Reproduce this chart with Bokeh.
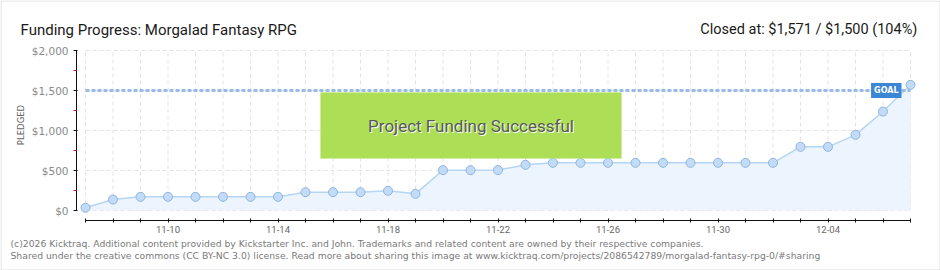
from bokeh.plotting import figure
from bokeh.models import (FixedTicker, NumeralTickFormatter, Label, BoxAnnotation, Range1d)
from bokeh.embed import file_html
from bokeh.resources import INLINE
import math

# ---------------- data ----------------
days = ["11-07", "11-08", "11-09", "11-10", "11-11", "11-12", "11-13", "11-14",
        "11-15", "11-16", "11-17", "11-18", "11-19", "11-20", "11-21", "11-22",
        "11-23", "11-24", "11-25", "11-26", "11-27", "11-28", "11-29", "11-30",
        "12-01", "12-02", "12-03", "12-04", "12-05", "12-06", "12-07"]
pledged = [34, 137, 171, 171, 171, 171, 171, 171, 229, 229, 229, 246, 208, 504, 504,
           505, 571, 596, 596, 596, 596, 596, 596, 596, 596, 596, 796, 796, 946, 1237, 1571]
labeled_days = ["11-10", "11-14", "11-18", "11-22", "11-26", "11-30", "12-04"]
y_ticks = [0, 500, 1000, 1500, 2000]
y_minor = [250, 750, 1250, 1750]
goal = 1500
closed_at = 1571
title_text = "Funding Progress: Morgalad Fantasy RPG"
footer1 = ("(c)2026 Kicktraq. Additional content provided by Kickstarter Inc. and John. "
           "Trademarks and related content are owned by their respective companies.")
footer2 = ("Shared under the creative commons (CC BY-NC 3.0) license. Read more about sharing "
           "this image at www.kicktraq.com/projects/2086542789/morgalad-fantasy-rpg-0/#sharing")

# ---------------- layout ----------------
W, H = 940, 270
X0PX, XNPX = 85, 910      # pixel of first / last day
Y0PX, YTPX = 210, 50      # pixel of $0 / top tick
YAXPX, XAXPX = 76, 220    # pixel position of y axis line / x axis line
n = len(days)
idx = list(range(n))
px_day = (XNPX - X0PX) / (n - 1)
px_usd = (Y0PX - YTPX) / y_ticks[-1]

def dx(px):   # canvas px -> data x
    return (px - X0PX) / px_day

def dy(py):   # canvas px -> data y
    return (Y0PX - py) / px_usd

p = figure(width=W, height=H, output_backend="svg", toolbar_location=None, title=None,
           x_range=Range1d(dx(0), dx(W)), y_range=Range1d(dy(H), dy(0)),
           min_border=0, min_border_left=0, min_border_right=0,
           min_border_top=0, min_border_bottom=0)
p.outline_line_color = None
p.background_fill_color = "white"
p.border_fill_color = "white"
p.xgrid.visible = False
p.ygrid.visible = False

# grid lines (dashed)
p.segment(x0=idx, y0=[y_ticks[0]] * n, x1=idx, y1=[y_ticks[-1]] * n,
          line_color="#e3e3e3", line_width=1, line_dash="4 3")
p.segment(x0=[0] * len(y_ticks), y0=y_ticks, x1=[n - 1] * len(y_ticks), y1=y_ticks,
          line_color="#e3e3e3", line_width=1, line_dash="4 3")

# area + line
p.varea(x=idx, y1=[0] * n, y2=pledged, fill_color="#ecf4fd")
p.line(idx, pledged, line_color="#b6d5f4", line_width=1.5)

# goal line
p.segment(x0=[0], y0=[goal], x1=[n - 1], y1=[goal],
          line_color="#99bce6", line_width=3, line_dash="4 2")

# points
p.scatter(idx, pledged, size=9, fill_color="#c2dcf8", line_color="#8fb4de", line_width=1)

# axes (drawn inside the full-canvas frame at fixed locations)
ya = p.yaxis[0]
ya.fixed_location = dx(YAXPX)
ya.ticker = FixedTicker(ticks=y_ticks, minor_ticks=y_minor)
ya.formatter = NumeralTickFormatter(format="$0,0")
ya.bounds = (y_ticks[0], y_ticks[-1])
ya.axis_line_color = "#111111"
ya.major_tick_line_color = "#111111"
ya.major_tick_in = 1
ya.major_tick_out = 3
ya.minor_tick_line_color = "#e01010"
ya.minor_tick_in = 0
ya.minor_tick_out = 3
ya.major_label_text_color = "#8a8a8a"
ya.major_label_text_font = "DejaVu Sans"
ya.major_label_text_font_size = "10.5px"
ya.major_label_standoff = 5

xa = p.xaxis[0]
xa.fixed_location = dy(XAXPX)
xa.ticker = FixedTicker(ticks=idx, minor_ticks=[])
xa.major_label_overrides = {i: (d if d in labeled_days else "") for i, d in zip(idx, days)}
xa.bounds = (0, n - 1)
xa.axis_line_color = "#111111"
xa.major_tick_line_color = "#111111"
xa.major_tick_in = 2
xa.major_tick_out = 2
xa.minor_tick_line_color = None
xa.major_label_text_color = "#666666"
xa.major_label_text_font = "Roboto"
xa.major_label_text_font_size = "9.5px"
xa.major_label_standoff = 3

# success banner
p.add_layout(BoxAnnotation(left=dx(320), right=dx(621), bottom=dy(158), top=dy(92),
                           fill_color="#acde56", fill_alpha=1.0,
                           line_color="#c9ea8e", line_width=1, level="overlay"))
p.add_layout(Label(x=dx(470.5), y=dy(125), x_offset=1, y_offset=-1,
                   text="Project Funding Successful",
                   text_align="center", text_baseline="middle", text_font="Roboto",
                   text_font_size="17px", text_color="white", level="overlay"))
p.add_layout(Label(x=dx(470.5), y=dy(125), text="Project Funding Successful",
                   text_align="center", text_baseline="middle", text_font="Roboto",
                   text_font_size="17px", text_color="#585858", level="overlay"))

# goal badge
p.add_layout(Label(x=n - 1, y=goal, x_offset=-9, text="GOAL", text_align="right",
                   text_baseline="middle", text_font="DejaVu Sans", text_font_size="8px",
                   text_font_style="bold", text_color="white",
                   background_fill_color="#3b86d5", padding=3, level="overlay"))

# texts around the chart
def clabel(px, py, text, **kw):
    p.add_layout(Label(x=dx(px), y=dy(py), text=text, **kw))

clabel(20, 29, title_text, text_font="Roboto", text_font_size="15px",
       text_color="#1a1a1a", text_baseline="alphabetic")
pct = int(closed_at / goal * 100)
clabel(924, 29, f"Closed at:  ${closed_at:,} /  ${goal:,} ({pct}%)",
       text_font="Roboto", text_font_size="14.5px", text_align="right",
       text_color="#1a1a1a", text_baseline="alphabetic")
clabel(20, 124.5, "PLEDGED", angle=math.pi / 2, text_align="center",
       text_baseline="middle", text_font="DejaVu Sans",
       text_font_size="8.5px", text_color="#666666")
clabel(10, 243, footer1, text_font="DejaVu Sans", text_font_size="9.25px",
       text_color="#7a7a7a", text_baseline="middle")
clabel(10, 255, footer2, text_font="DejaVu Sans", text_font_size="9.25px",
       text_color="#7a7a7a", text_baseline="middle")

# outer border
p.add_layout(BoxAnnotation(left=dx(0.5), right=dx(W - 0.5), top=dy(0.5), bottom=dy(H - 0.5),
                           fill_color=None, fill_alpha=0, line_color="#8a8a8a", line_width=1))

open("out.html", "w").write(file_html(p, INLINE))
